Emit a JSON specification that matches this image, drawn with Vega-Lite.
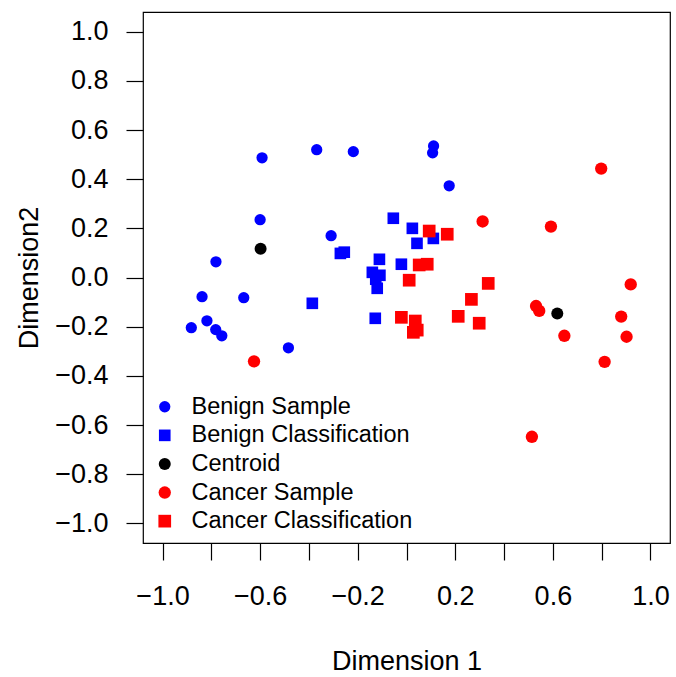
{
  "$schema": "https://vega.github.io/schema/vega-lite/v6.json",
  "width": 527,
  "height": 531,
  "autosize": {"type": "none"},
  "padding": {"left": 143, "top": 12, "right": 6, "bottom": 134},
  "background": "white",
  "config": {
    "view": {"stroke": "black", "strokeWidth": 1.2},
    "font": "Liberation Sans",
    "axis": {
      "grid": false,
      "domain": false,
      "tickColor": "black",
      "tickWidth": 1.2,
      "tickSize": 17,
      "labelColor": "black",
      "labelFont": "Liberation Sans",
      "labelFontSize": 27,
      "titleFont": "Liberation Sans",
      "titleFontSize": 27,
      "titleFontWeight": "normal",
      "titleColor": "black"
    }
  },
  "data": {
    "values": [
      {"x": -0.592, "y": 0.487, "group": "Benign Sample"},
      {"x": -0.368, "y": 0.520, "group": "Benign Sample"},
      {"x": -0.218, "y": 0.512, "group": "Benign Sample"},
      {"x": 0.111, "y": 0.535, "group": "Benign Sample"},
      {"x": 0.107, "y": 0.507, "group": "Benign Sample"},
      {"x": 0.175, "y": 0.373, "group": "Benign Sample"},
      {"x": -0.600, "y": 0.235, "group": "Benign Sample"},
      {"x": -0.309, "y": 0.170, "group": "Benign Sample"},
      {"x": -0.781, "y": 0.064, "group": "Benign Sample"},
      {"x": -0.838, "y": -0.078, "group": "Benign Sample"},
      {"x": -0.667, "y": -0.082, "group": "Benign Sample"},
      {"x": -0.818, "y": -0.176, "group": "Benign Sample"},
      {"x": -0.882, "y": -0.204, "group": "Benign Sample"},
      {"x": -0.782, "y": -0.212, "group": "Benign Sample"},
      {"x": -0.757, "y": -0.237, "group": "Benign Sample"},
      {"x": -0.484, "y": -0.286, "group": "Benign Sample"},
      {"x": 0.798, "y": 0.443, "group": "Cancer Sample"},
      {"x": 0.312, "y": 0.228, "group": "Cancer Sample"},
      {"x": 0.592, "y": 0.207, "group": "Cancer Sample"},
      {"x": 0.919, "y": -0.028, "group": "Cancer Sample"},
      {"x": 0.531, "y": -0.116, "group": "Cancer Sample"},
      {"x": 0.544, "y": -0.136, "group": "Cancer Sample"},
      {"x": 0.880, "y": -0.159, "group": "Cancer Sample"},
      {"x": 0.647, "y": -0.237, "group": "Cancer Sample"},
      {"x": 0.902, "y": -0.241, "group": "Cancer Sample"},
      {"x": 0.812, "y": -0.343, "group": "Cancer Sample"},
      {"x": 0.514, "y": -0.648, "group": "Cancer Sample"},
      {"x": -0.625, "y": -0.341, "group": "Cancer Sample"},
      {"x": -0.054, "y": 0.241, "group": "Benign Classification"},
      {"x": 0.024, "y": 0.200, "group": "Benign Classification"},
      {"x": 0.043, "y": 0.139, "group": "Benign Classification"},
      {"x": 0.110, "y": 0.159, "group": "Benign Classification"},
      {"x": -0.271, "y": 0.098, "group": "Benign Classification"},
      {"x": -0.255, "y": 0.103, "group": "Benign Classification"},
      {"x": -0.111, "y": 0.074, "group": "Benign Classification"},
      {"x": -0.021, "y": 0.054, "group": "Benign Classification"},
      {"x": -0.140, "y": 0.021, "group": "Benign Classification"},
      {"x": -0.109, "y": 0.009, "group": "Benign Classification"},
      {"x": -0.126, "y": -0.007, "group": "Benign Classification"},
      {"x": -0.120, "y": -0.044, "group": "Benign Classification"},
      {"x": -0.386, "y": -0.105, "group": "Benign Classification"},
      {"x": -0.128, "y": -0.166, "group": "Benign Classification"},
      {"x": 0.093, "y": 0.189, "group": "Cancer Classification"},
      {"x": 0.167, "y": 0.176, "group": "Cancer Classification"},
      {"x": 0.052, "y": 0.051, "group": "Cancer Classification"},
      {"x": 0.085, "y": 0.054, "group": "Cancer Classification"},
      {"x": 0.011, "y": -0.011, "group": "Cancer Classification"},
      {"x": 0.335, "y": -0.024, "group": "Cancer Classification"},
      {"x": 0.266, "y": -0.089, "group": "Cancer Classification"},
      {"x": -0.021, "y": -0.162, "group": "Cancer Classification"},
      {"x": 0.036, "y": -0.177, "group": "Cancer Classification"},
      {"x": 0.044, "y": -0.214, "group": "Cancer Classification"},
      {"x": 0.028, "y": -0.223, "group": "Cancer Classification"},
      {"x": 0.212, "y": -0.158, "group": "Cancer Classification"},
      {"x": 0.298, "y": -0.186, "group": "Cancer Classification"},
      {"x": -0.598, "y": 0.117, "group": "Centroid"},
      {"x": 0.618, "y": -0.146, "group": "Centroid"}
    ]
  },
  "mark": {"type": "point", "filled": true, "opacity": 1, "strokeWidth": 0},
  "encoding": {
    "x": {
      "field": "x",
      "type": "quantitative",
      "scale": {"domain": [-1.08, 1.08], "nice": false, "zero": false},
      "axis": {
        "values": [-1, -0.8, -0.6, -0.4, -0.2, 0, 0.2, 0.4, 0.6, 0.8, 1],
        "labelExpr": "abs(round(datum.value*10)) % 4 == 2 ? replace(format(datum.value, '.1f'), '-', '\u2212') : ''",
        "labelBaseline": "alphabetic",
        "labelPadding": 44,
        "labelFlush": false,
        "labelOverlap": false,
        "title": "Dimension 1",
        "titleBaseline": "alphabetic",
        "titleY": 126
      }
    },
    "y": {
      "field": "y",
      "type": "quantitative",
      "scale": {"domain": [-1.08, 1.08], "nice": false, "zero": false},
      "axis": {
        "values": [-1, -0.8, -0.6, -0.4, -0.2, 0, 0.2, 0.4, 0.6, 0.8, 1],
        "labelExpr": "replace(format(datum.value, '.1f'), '-', '\u2212')",
        "labelPadding": 18,
        "labelFlush": false,
        "labelOverlap": false,
        "title": "Dimension2",
        "titleAngle": -90,
        "titleBaseline": "alphabetic",
        "titleX": -106,
        "titleY": 265.5
      }
    },
    "color": {
      "field": "group",
      "type": "nominal",
      "scale": {
        "domain": ["Benign Sample", "Benign Classification", "Centroid", "Cancer Sample", "Cancer Classification"],
        "range": ["#0000ff", "#0000ff", "#000000", "#ff0000", "#ff0000"]
      },
      "legend": {
        "title": null,
        "orient": "none",
        "legendX": 10,
        "legendY": 383,
        "padding": 0,
        "rowPadding": 3.6,
        "labelFont": "Liberation Sans",
        "labelFontSize": 23.5,
        "labelColor": "black",
        "labelOffset": 15,
        "symbolSize": 65,
        "symbolStrokeWidth": 0,
        "labelLimit": 400
      }
    },
    "shape": {
      "field": "group",
      "type": "nominal",
      "scale": {
        "domain": ["Benign Sample", "Benign Classification", "Centroid", "Cancer Sample", "Cancer Classification"],
        "range": ["circle", "square", "circle", "circle", "square"]
      },
      "legend": {
        "title": null,
        "orient": "none",
        "legendX": 10,
        "legendY": 383,
        "padding": 0,
        "rowPadding": 3.6,
        "labelFont": "Liberation Sans",
        "labelFontSize": 23.5,
        "labelColor": "black",
        "labelOffset": 15,
        "symbolSize": 65,
        "symbolStrokeWidth": 0,
        "labelLimit": 400
      }
    },
    "size": {
      "field": "group",
      "type": "nominal",
      "scale": {
        "domain": ["Benign Sample", "Benign Classification", "Centroid", "Cancer Sample", "Cancer Classification"],
        "range": [127, 161, 127, 127, 161]
      },
      "legend": null
    }
  }
}
